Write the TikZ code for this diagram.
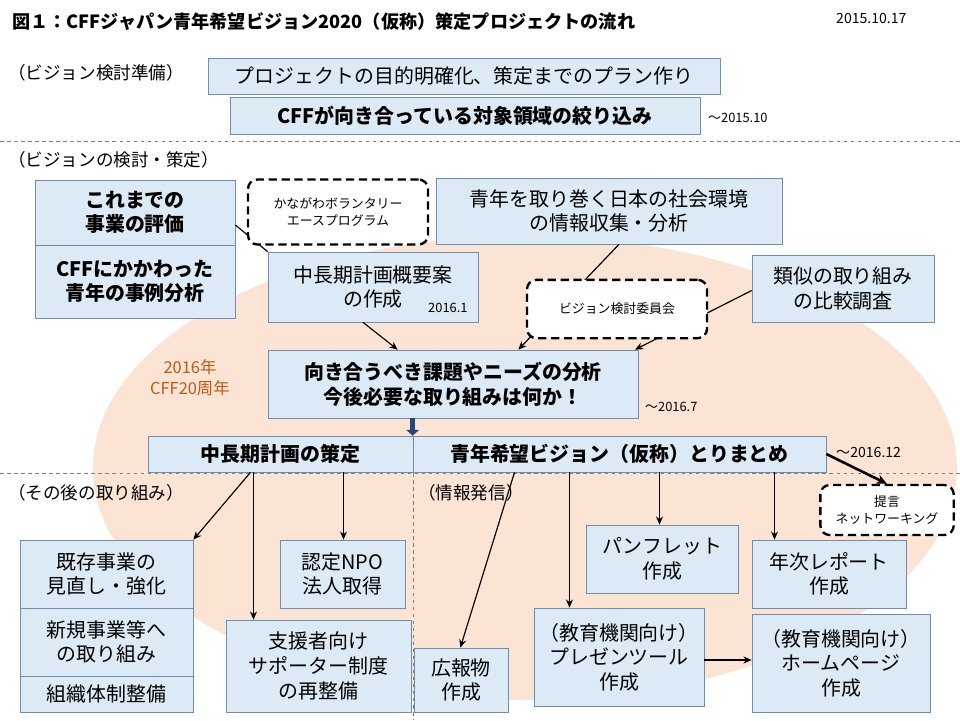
\documentclass[tikz,border=0pt]{standalone}
\usepackage{fontspec}
\setmainfont{Noto Sans CJK JP}
\usetikzlibrary{arrows.meta}
\definecolor{bfill}{RGB}{220,234,245}
\definecolor{bdraw}{RGB}{110,140,180}
\definecolor{peach}{RGB}{252,228,212}
\definecolor{brownt}{RGB}{190,90,20}
\definecolor{dblue}{RGB}{40,70,120}
\tikzset{
 bx/.style={draw=bdraw,fill=bfill,line width=0.6pt,align=center,font=\fontsize{17}{21}\selectfont,inner sep=0pt},
 bb/.style={bx,font=\fontsize{17}{21}\selectfont\bfseries},
 db/.style={draw,dashed,line width=2pt,dash pattern=on 7pt off 4pt,rounded corners=8pt,fill=white,align=center,font=\fontsize{11}{14}\selectfont,inner sep=0pt},
 ar/.style={-{Stealth[length=7pt,width=6pt]},line width=1pt},
 ln/.style={line width=1pt},
 sep/.style={gray,dashed,line width=0.4pt},
 lbl/.style={anchor=west,font=\fontsize{15}{18}\selectfont,inner sep=0pt},
 dt/.style={anchor=west,font=\fontsize{11}{13}\selectfont,inner sep=0pt}
}
\newcommand{\bxat}[6]{\node[#1,minimum width=#4*0.03cm-#2*0.03cm,minimum height=#5*0.03cm-#3*0.03cm] (#6) at ({(#2+#4)/2},{(#3+#5)/2})}
\begin{document}
\begin{tikzpicture}[x=0.03cm,y=-0.03cm]
\useasboundingbox (0,0) rectangle (960,720);
\fill[white] (0,0) rectangle (960,720);
\fill[peach] (525,468) ellipse [x radius=432,y radius=232];
\node[anchor=west,font=\fontsize{15.5}{18}\selectfont\bfseries,inner sep=0pt] (title) at (12,22) {図１：CFFジャパン青年希望ビジョン2020（仮称）策定プロジェクトの流れ};
\node[dt,font=\fontsize{12}{14}\selectfont] (date) at (836,18) {2015.10.17};
\node[lbl] (s1) at (8,73) {（ビジョン検討準備）};
\draw[sep] (0,141) -- (960,141);
\draw[sep] (0,473) -- (960,473);
\draw[sep] (413,473) -- (413,720);
\bxat{bx}{208}{58}{720}{94}{A} {プロジェクトの目的明確化、策定までのプラン作り};
\bxat{bb}{230}{97}{700}{134}{B} {CFFが向き合っている対象領域の絞り込み};
\node[dt] (t1) at (708,118) {～2015.10};
\node[lbl] (s2) at (8,160) {（ビジョンの検討・策定）};
\bxat{bb}{35}{180}{235}{245}{C1} {これまでの\\事業の評価};
\bxat{bb}{35}{245}{235}{318}{C2} {CFFにかかわった\\青年の事例分析};
\bxat{bx}{268}{252}{478}{322}{D} {中長期計画概要案\\の作成\hspace{2.2em}};
\node[dt] (t2) at (428,308) {2016.1};
\bxat{bx}{436}{178}{782}{244}{E} {青年を取り巻く日本の社会環境\\の情報収集・分析};
\bxat{bx}{752}{255}{934}{322}{F} {類似の取り組み\\の比較調査};
\bxat{bb}{268}{350}{638}{418}{G} {向き合うべき課題やニーズの分析\\今後必要な取り組みは何か！};
\node[dt] (t3) at (645,407) {～2016.7};
\draw[ln] (C1.east |- 0,225) -- (D.north west);
\draw[ar] (D.south) ++(-10,0) coordinate (d1) (d1) -- ([xshift=3.9cm]G.north west);
\draw[ar] (E.south) ++(10,0) coordinate (e1) (e1) -- ([xshift=-3.6cm]G.north east);
\draw[ar] (F.west) ++(0,2) coordinate (f1) (f1) -- ([xshift=-0.1cm]G.north east);
\node[db,minimum width=5.4cm,minimum height=1.95cm] (K1) at (338,212) {かながわボランタリー\\エースプログラム};
\node[db,minimum width=5.4cm,minimum height=1.75cm] (K2) at (617,309) {ビジョン検討委員会};
\node[font=\fontsize{14}{18}\selectfont,text=brownt,align=center] (yr) at (190,378) {2016年\\CFF20周年};
\bxat{bb}{148}{436}{413}{472}{H1} {中長期計画の策定};
\bxat{bb}{413}{436}{826}{472}{H2} {青年希望ビジョン（仮称）とりまとめ};
\draw[dblue,line width=4pt,-{Triangle[length=5pt,width=11pt]}] (G.south -| H2.north west) -- (H2.north west);
\node[dt,font=\fontsize{12}{14}\selectfont] (t4) at (836,452) {～2016.12};
\node[db,minimum width=4cm,minimum height=1.5cm] (K3) at (887,510) {提言\\ネットワーキング};
\draw[-{Stealth[length=9pt,width=8pt]},line width=2.2pt] (H2.east) -- (K3.north);
\node[lbl] (s3) at (8,493) {（その後の取り組み）};
\node[lbl] (s4) at (418,493) {（情報発信）};
\bxat{bx}{20}{540}{193}{608}{I1} {既存事業の\\見直し・強化};
\bxat{bx}{20}{608}{193}{676}{I2} {新規事業等へ\\の取り組み};
\bxat{bx}{20}{676}{193}{712}{I3} {組織体制整備};
\bxat{bx}{280}{540}{405}{608}{J} {認定NPO\\法人取得};
\bxat{bx}{226}{620}{411}{712}{K} {支援者向け\\サポーター制度\\の再整備};
\bxat{bx}{414}{648}{508}{712}{L} {広報物\\作成};
\bxat{bx}{534}{608}{704}{706}{M} {（教育機関向け）\\プレゼンツール\\作成};
\bxat{bx}{586}{525}{738}{593}{N} {パンフレット\\作成};
\bxat{bx}{752}{540}{906}{608}{O} {年次レポート\\作成};
\bxat{bx}{752}{614}{930}{712}{P} {（教育機関向け）\\ホームページ\\作成};
\draw[ar] (H1.south) ++(-30,0) coordinate (h1) (h1) -- (I1.north east);
\draw[ar] (H1.south) ++(-27,0) coordinate (h2) (h2) -- (h2 |- K.north);
\draw[ar] (H1.south) ++(63,0) coordinate (h3) (h3) -- (h3 |- J.north);
\draw[ar] (H2.south) ++(-105,0) coordinate (h4) (h4) -- ([xshift=1.4cm]L.north west);
\draw[ar] (H2.south) ++(-50,0) coordinate (h5) (h5) -- (h5 |- M.north);
\draw[ar] (H2.south) ++(40,0) coordinate (h6) (h6) -- (h6 |- N.north);
\draw[ar] (H2.south) ++(155,0) coordinate (h7) (h7) -- (h7 |- O.north);
\draw[ar] (M.east) ++(0,3) coordinate (m1) (m1) -- (m1 -| P.west);
\end{tikzpicture}
\end{document}
